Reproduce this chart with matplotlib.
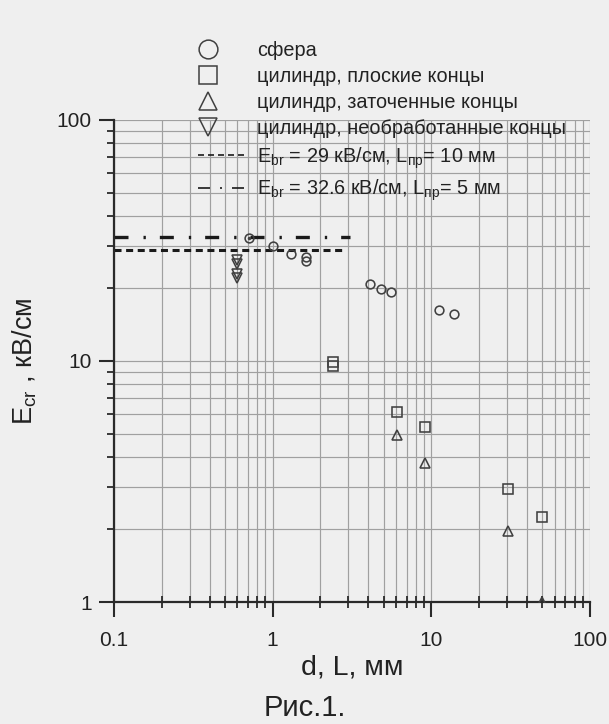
import matplotlib
matplotlib.use("Agg")
import matplotlib.pyplot as plt
from matplotlib.lines import Line2D
from matplotlib.legend_handler import HandlerLine2D
from matplotlib.ticker import LogLocator, FuncFormatter, NullFormatter

plt.rcParams['font.family'] = ['Liberation Sans', 'DejaVu Sans']
plt.rcParams['mathtext.fontset'] = 'custom'
plt.rcParams['mathtext.rm'] = 'Liberation Sans'
plt.rcParams['mathtext.it'] = 'Liberation Sans'

# data
sphere_x = [0.71, 1.0, 1.3, 1.62, 1.62, 4.1, 4.8, 5.6, 11.2, 13.8]
sphere_y = [32.5, 29.9, 27.8, 27.1, 26.1, 20.9, 19.8, 19.4, 16.2, 15.6]
flat_x = [2.4, 2.4, 6.07, 9.1, 30.4, 49.8]
flat_y = [9.9, 9.5, 6.13, 5.3, 2.93, 2.26]
sharp_x = [6.07, 9.1, 30.4, 49.8]
sharp_y = [4.92, 3.76, 1.98, 1.0]
raw_x = [0.6, 0.6, 0.6, 0.6]
raw_y = [26.3, 25.3, 23.0, 22.0]
ebr_levels = [29.0, 32.6]
ebr_xmax = [2.85, 3.07]

labels = ["сфера", "цилиндр, плоские концы", "цилиндр, заточенные концы",
          "цилиндр, необработанные концы",
          r"E$_{\rm br}$ = 29 кВ/см, L$_{\rm пр}$= 10 мм",
          r"E$_{\rm br}$ = 32.6 кВ/см, L$_{\rm пр}$= 5 мм"]

bg = '#efefef'
ink = '#404040'


class LeftMarker(HandlerLine2D):
    # legend markers sit left of the line samples in the original
    def create_artists(self, legend, orig_handle, xdescent, ydescent,
                       width, height, fontsize, trans):
        arts = super().create_artists(legend, orig_handle, xdescent, ydescent,
                                      width, height, fontsize, trans)
        for a in arts:
            a.set_xdata([x - width * 0.29 for x in a.get_xdata()])
        return arts


fig = plt.figure(figsize=(6.09, 7.24), dpi=100, facecolor=bg)
ax = fig.add_axes([0.1872, 0.1685, 0.9688 - 0.1872, 0.8343 - 0.1685])
ax.set_facecolor(bg)
ax.set_xscale('log')
ax.set_yscale('log')
ax.set_xlim(0.1, 100)
ax.set_ylim(1, 100)

ax.grid(True, which='both', color='#a0a0a0', lw=0.85)
ax.set_axisbelow(True)

mk = dict(ls='none', mfc='none', mec=ink, mew=1.15, zorder=3)
ax.plot(sphere_x, sphere_y, marker='o', ms=6.3, **mk)
ax.plot(sphere_x[:1], sphere_y[:1], marker='.', ls='none', color=ink, ms=3, zorder=4)
ax.plot(flat_x, flat_y, marker='s', ms=7.3, **mk)
ax.plot(sharp_x, sharp_y, marker='^', ms=6.5, **mk)
ax.plot(raw_x, raw_y, marker='v', ms=6.5, **mk)

ax.plot([0.1, ebr_xmax[0]], [ebr_levels[0]] * 2, color='#1a1a1a', lw=2.2,
        dashes=(2.3, 1.5), zorder=2)
ax.plot([0.1, ebr_xmax[1]], [ebr_levels[1]] * 2, color='#1a1a1a', lw=2.4,
        dashes=(4.2, 4.5, 0.7, 4.2), zorder=2)

# axes look
for s in ['top', 'right']:
    ax.spines[s].set_visible(False)
for s in ['bottom', 'left']:
    ax.spines[s].set_color('#2a2a2a')
    ax.spines[s].set_linewidth(1.6)

fmt = FuncFormatter(lambda v, p: '%g' % v)
ax.xaxis.set_major_formatter(fmt)
ax.yaxis.set_major_formatter(fmt)
ax.xaxis.set_minor_formatter(NullFormatter())
ax.yaxis.set_minor_formatter(NullFormatter())
ax.xaxis.set_minor_locator(LogLocator(base=10, subs=range(2, 10)))
ax.yaxis.set_minor_locator(LogLocator(base=10, subs=range(2, 10)))
ax.tick_params(axis='x', which='major', direction='out', length=11, width=1.5,
               color='#2a2a2a', labelsize=15, pad=10, labelcolor='#222222')
ax.tick_params(axis='x', which='minor', direction='inout', length=8, width=1.3,
               color='#2a2a2a')
ax.tick_params(axis='y', which='major', direction='out', length=11, width=1.5,
               color='#2a2a2a', labelsize=15, pad=5, labelcolor='#222222')
ax.tick_params(axis='y', which='minor', direction='out', length=5, width=1.3,
               color='#2a2a2a')

ax.set_xlabel("d, L, мм", fontsize=20.5, color='#222222', labelpad=3)
ax.set_ylabel(r"E$_{\rm cr}$ , кВ/см", fontsize=19.5, color='#222222', labelpad=13)
fig.text(0.5, 0.022, "Рис.1.", ha='center', va='center', fontsize=21, color='#222222')

marker_handles = [
    Line2D([], [], marker='o', ls='none', mfc='none', mec=ink, mew=1.1, ms=13.5),
    Line2D([], [], marker='s', ls='none', mfc='none', mec=ink, mew=1.1, ms=13),
    Line2D([], [], marker='^', ls='none', mfc='none', mec=ink, mew=1.1, ms=13),
    Line2D([], [], marker='v', ls='none', mfc='none', mec=ink, mew=1.1, ms=13),
]
line_handles = [
    Line2D([], [], color='#1a1a1a', lw=1.2, dashes=(3.6, 2.4)),
    Line2D([], [], color='#1a1a1a', lw=1.2, dashes=(7.2, 6, 1.2, 6)),
]
hmap = {h: LeftMarker() for h in marker_handles}
leg = fig.legend(marker_handles + line_handles, labels, loc='upper left',
                 bbox_to_anchor=(0.312, 0.955), frameon=False, fontsize=14.3,
                 handlelength=2.36, handletextpad=0.6, labelspacing=0.36,
                 borderaxespad=0, labelcolor='#222222', handler_map=hmap)

fig.savefig("out.png", dpi=100, facecolor=bg)
